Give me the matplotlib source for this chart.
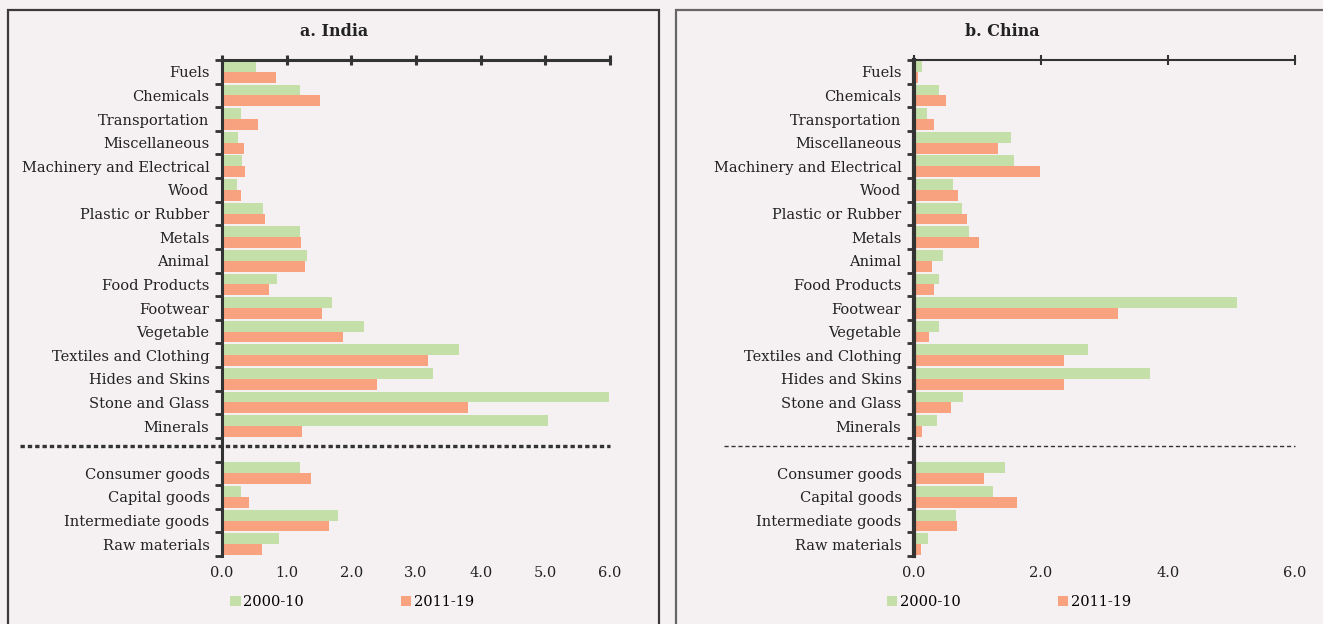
import numpy as np
import matplotlib.pyplot as plt
from matplotlib.patches import Rectangle

plt.rcParams['font.family'] = ['DejaVu Serif']

products = ['Fuels', 'Chemicals', 'Transportation', 'Miscellaneous',
            'Machinery and Electrical', 'Wood', 'Plastic or Rubber', 'Metals',
            'Animal', 'Food Products', 'Footwear', 'Vegetable',
            'Textiles and Clothing', 'Hides and Skins', 'Stone and Glass', 'Minerals']
stages = ['Consumer goods', 'Capital goods', 'Intermediate goods', 'Raw materials']

# India
india_0010_prod = [0.53, 1.21, 0.29, 0.25, 0.31, 0.23, 0.64, 1.21, 1.32, 0.85,
                   1.70, 2.20, 3.67, 3.27, 5.99, 5.04]
india_1119_prod = [0.84, 1.52, 0.55, 0.34, 0.36, 0.29, 0.66, 1.22, 1.29, 0.72,
                   1.54, 1.87, 3.19, 2.40, 3.81, 1.24]
india_0010_stage = [1.20, 0.30, 1.80, 0.88]
india_1119_stage = [1.38, 0.41, 1.65, 0.62]

# China
china_0010_prod = [0.12, 0.39, 0.20, 1.52, 1.58, 0.61, 0.75, 0.86, 0.45, 0.40,
                   5.08, 0.40, 2.74, 3.71, 0.77, 0.37]
china_1119_prod = [0.07, 0.50, 0.31, 1.33, 1.98, 0.69, 0.83, 1.02, 0.29, 0.31,
                   3.21, 0.23, 2.37, 2.36, 0.58, 0.12]
china_0010_stage = [1.44, 1.24, 0.66, 0.22]
china_1119_stage = [1.10, 1.62, 0.67, 0.11]

series_names = ['2000-10', '2011-19']
green = '#c4e0a8'
orange = '#f8a27f'
bg = '#f5f1f2'

# 16 product rows, one empty row for the separator, then 4 stage rows
pos = np.array(list(range(16)) + list(range(17, 21)))


def panel(ax, v1, v2, xticks, sep, top_lw, left_lw):
    h = 0.46
    ax.barh(pos - h / 2, v1, height=h, color=green, label=series_names[0])
    ax.barh(pos + h / 2, v2, height=h, color=orange, label=series_names[1])
    ax.set_facecolor(bg)
    ax.set_xlim(0, 6)
    ax.set_ylim(20.5, -0.5)
    ax.set_yticks(pos)
    ax.set_yticklabels(products + stages, fontsize=10.5, color='#222222')
    ax.set_yticks(np.arange(-0.5, 21, 1), minor=True)
    ax.tick_params(axis='y', which='major', length=0, pad=9)
    ax.tick_params(axis='y', which='minor', length=5, width=2, color='#333333')
    ax.set_xticks(xticks)
    ax.set_xticklabels(['%.1f' % t for t in xticks], fontsize=10.5, color='#222222')
    ax.tick_params(axis='x', bottom=False, top=True, labelbottom=True, labeltop=False,
                   direction='inout', length=7, width=top_lw, color='#333333', pad=4)
    for s in ['right', 'bottom']:
        ax.spines[s].set_visible(False)
    ax.spines['top'].set_linewidth(top_lw)
    ax.spines['top'].set_color('#333333')
    ax.spines['left'].set_linewidth(left_lw)
    ax.spines['left'].set_color('#333333')
    ax.plot([sep['x0'], 1.0], [15.85, 15.85], transform=ax.get_yaxis_transform(),
            color='#333333', lw=sep['lw'], ls=sep['ls'], clip_on=False)
    ax.legend(ncol=2, loc='center', bbox_to_anchor=(sep['legx'], -0.093),
              frameon=False, fontsize=10.5, handlelength=0.7, handleheight=0.7,
              handletextpad=0.2, columnspacing=6.65)


fig = plt.figure(figsize=(13.23, 6.24), dpi=100)
fig.patch.set_facecolor(bg)

# panel frames
fig.patches.append(Rectangle((8 / 1323, -0.05), 651 / 1323, 1 - 10 / 624 + 0.05,
                             transform=fig.transFigure, fill=False,
                             edgecolor='#3a3a3a', lw=1.6))
fig.patches.append(Rectangle((676 / 1323, -0.05), 0.6, 1 - 10 / 624 + 0.05,
                             transform=fig.transFigure, fill=False,
                             edgecolor='#666666', lw=1.6))

ax1 = fig.add_axes([222 / 1323, 1 - 556 / 624, 388 / 1323, 496 / 624])
ax2 = fig.add_axes([914 / 1323, 1 - 556 / 624, 381 / 1323, 496 / 624])

panel(ax1, india_0010_prod + india_0010_stage, india_1119_prod + india_1119_stage,
      [0, 1, 2, 3, 4, 5, 6],
      dict(x0=-0.52, lw=2.4, ls=(0, (1.3, 0.9)), legx=0.336), 2.2, 2.2)
panel(ax2, china_0010_prod + china_0010_stage, china_1119_prod + china_1119_stage,
      [0, 2, 4, 6],
      dict(x0=-0.50, lw=1.0, ls=(0, (3, 2)), legx=0.25), 1.5, 3.0)

fig.text(334 / 1323, 1 - 31 / 624, 'a. India', ha='center', va='center',
         fontsize=11.5, fontweight='bold', color='#222222')
fig.text(1002 / 1323, 1 - 31 / 624, 'b. China', ha='center', va='center',
         fontsize=11.5, fontweight='bold', color='#222222')

fig.savefig('out.png', dpi=100, facecolor=bg)
